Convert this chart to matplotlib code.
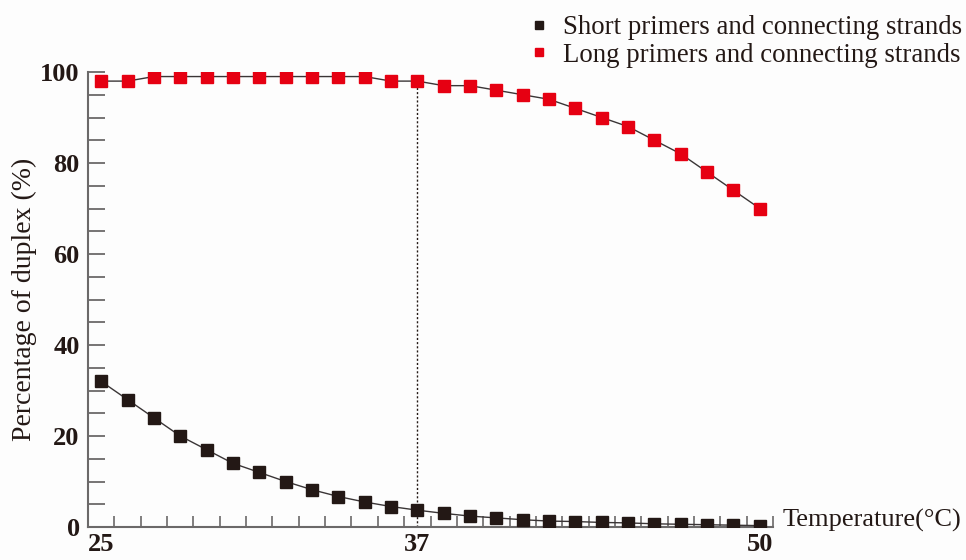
import matplotlib
matplotlib.use("Agg")
import matplotlib.pyplot as plt
from matplotlib.lines import Line2D
import numpy as np

temperature = list(range(25, 51))
short_primers = [32.0, 28.0, 24.0, 20.0, 17.0, 14.0, 12.0, 10.0, 8.2, 6.7, 5.5, 4.5,
                 3.7, 3.0, 2.4, 2.0, 1.6, 1.3, 1.2, 1.0, 0.9, 0.7, 0.6, 0.5, 0.4, 0.3]
long_primers = [98, 98, 99, 99, 99, 99, 99, 99, 99, 99, 99, 98,
                98, 97, 97, 96, 95, 94, 92, 90, 88, 85, 82, 78, 74, 70]
xtick_labels = ["25", "37", "50"]
xtick_values = [25, 37, 50]
series_names = ["Short primers and connecting strands", "Long primers and connecting strands"]

RED = "#e60012"
BLACK = "#231815"
AXC = "#6b6969"

plt.rcParams['font.family'] = ['Liberation Serif', 'DejaVu Serif']

fig = plt.figure(figsize=(9.66, 5.6), dpi=100)
fig.patch.set_facecolor("#fdfdfd")
W, H = 966, 560
ax = fig.add_axes([88 / W, 33 / H, (773 - 88) / W, (527 - 72) / H])
ax.set_facecolor("none")

ax.plot(temperature, short_primers, color="#3a3536", lw=1.0, marker="s", ms=8.5,
        mfc=BLACK, mec=BLACK, zorder=3)
ax.plot(temperature, long_primers, color="#3a3536", lw=1.0, marker="s", ms=8.5,
        mfc=RED, mec=RED, zorder=3)

idx37 = temperature.index(37)
ax.vlines(37, 0, long_primers[idx37], colors="#231815", linestyles=(0, (1.5, 1.5)), lw=1.0, zorder=2)

ax.set_xlim(24.5, 50.5)
ax.set_ylim(0, 100)

for s in ["top", "right"]:
    ax.spines[s].set_visible(False)
for s in ["left", "bottom"]:
    ax.spines[s].set_color(AXC)
    ax.spines[s].set_linewidth(1.5)

ax.set_xticks(xtick_values)
ax.set_xticklabels(xtick_labels)
ax.set_xticks(np.arange(25.5, 50.6, 1.0), minor=True)
ax.tick_params(axis="x", which="major", length=0, pad=4.5, labelsize=19)
ax.tick_params(axis="x", which="minor", direction="in", length=8, width=1.2, color=AXC)

ax.set_yticks(np.arange(0, 101, 20))
ax.set_yticks(np.arange(0, 101, 5), minor=True)
ax.tick_params(axis="y", which="both", direction="in", length=12, width=1.3, color=AXC)
ax.tick_params(axis="y", which="major", labelsize=19, pad=6)

for lab in ax.get_xticklabels() + ax.get_yticklabels():
    lab.set_fontweight("bold")
    lab.set_color("#231815")

ax.set_ylabel("Percentage of duplex (%)", fontsize=20, color="#231815", labelpad=2)
fig.text(783 / W, 1 - 520 / H, "Temperature(\u00b0C)", fontsize=19, color="#231815",
         ha="left", va="center")

handles = [Line2D([], [], ls="none", marker="s", ms=6, mfc=BLACK, mec=BLACK),
           Line2D([], [], ls="none", marker="s", ms=6, mfc=RED, mec=RED)]
leg = fig.legend(handles, series_names, loc="upper right", bbox_to_anchor=(962 / W, 1 - 15 / H),
                 frameon=False, fontsize=19.3, handlelength=0.6, handletextpad=0.6,
                 labelspacing=0.1, borderpad=0, borderaxespad=0)
for t in leg.get_texts():
    t.set_color("#231815")

fig.savefig("out.png", dpi=100, facecolor=fig.get_facecolor())
